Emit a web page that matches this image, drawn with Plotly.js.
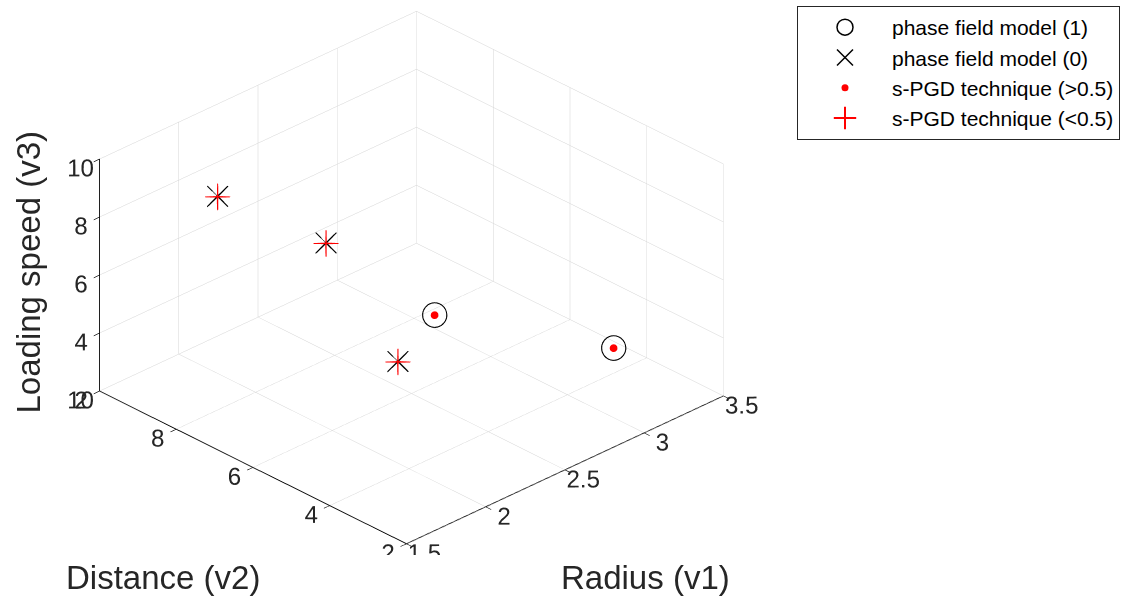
<!DOCTYPE html>
<html>
<head>
<meta charset="utf-8">
<script src="https://cdn.plot.ly/plotly-3.0.1.min.js"></script>
<style>html,body{margin:0;padding:0;background:#fff;}#chart{width:1131px;height:596px;}</style>
</head>
<body>
<div id="chart"></div>
<script>
// Data (Radius v1, Distance v2, Loading speed v3)
var pfm1Radius   = [2.5, 3.0];
var pfm1Distance = [5.4, 2.8];
var pfm1Speed    = [5.1, 4.4];

var pfm0Radius   = [2.0, 2.2, 2.0];
var pfm0Distance = [9.0, 7.0, 4.3];
var pfm0Speed    = [8.1, 7.3, 5.5];

var legendNames = ['phase field model (1)', 'phase field model (0)', 's-PGD technique (>0.5)', 's-PGD technique (<0.5)'];
var xTicks = [1.5, 2, 2.5, 3, 3.5];
var yTicks = [2, 4, 6, 8, 10];
var zTicks = [2, 4, 6, 8, 10];

var W = 1131, H = 596;
var FONT = 'Liberation Sans, Arial, sans-serif';
var THIN = 'Lato Thin';
var INK = '#262626';

function axis3d(ticks, range) {
  return {
    range: range, tickmode: 'array', tickvals: ticks, ticktext: ticks.map(String),
    showgrid: true, gridcolor: '#d4d4d4', gridwidth: 1,
    showline: true, linecolor: '#000', linewidth: 2,
    ticks: 'outside', ticklen: 8, tickcolor: '#000', tickwidth: 1.5,
    tickfont: {family: FONT, size: 17, color: INK}, tickangle: 0,
    showbackground: false, zeroline: false, showspikes: false,
    title: {text: ''}
  };
}

function glyphs(arr, ch) { return arr.map(function () { return ch; }); }

var traces = [
  {type: 'scatter3d', mode: 'text', x: pfm1Radius, y: pfm1Distance, z: pfm1Speed,
   text: glyphs(pfm1Radius, '○'), textposition: 'middle center',
   textfont: {family: 'Noto Sans CJK SC', size: 28, color: '#000'}, showlegend: false, hoverinfo: 'skip'},
  {type: 'scatter3d', mode: 'text', x: pfm0Radius, y: pfm0Distance, z: pfm0Speed,
   text: glyphs(pfm0Radius, '×'), textposition: 'middle center',
   textfont: {family: THIN, size: 54, color: '#000'}, showlegend: false, hoverinfo: 'skip'},
  {type: 'scatter3d', mode: 'markers', x: pfm1Radius, y: pfm1Distance, z: pfm1Speed,
   marker: {symbol: 'circle', size: 4.5, color: '#ff0000'}, showlegend: false, hoverinfo: 'skip'},
  {type: 'scatter3d', mode: 'text', x: pfm0Radius, y: pfm0Distance, z: pfm0Speed,
   text: glyphs(pfm0Radius, '+'), textposition: 'middle center',
   textfont: {family: THIN, size: 56, color: '#ff0000'}, showlegend: false, hoverinfo: 'skip'},
  {type: 'scatter', mode: 'markers', x: [null], y: [null], name: legendNames[0],
   marker: {symbol: 'circle-open', size: 16, color: '#000', line: {color: '#000', width: 1.5}}},
  {type: 'scatter', mode: 'markers', x: [null], y: [null], name: legendNames[1],
   marker: {symbol: 'x-thin-open', size: 16, color: '#000', line: {color: '#000', width: 1.5}}},
  {type: 'scatter', mode: 'markers', x: [null], y: [null], name: legendNames[2],
   marker: {symbol: 'circle', size: 7, color: '#ff0000', line: {width: 0}}},
  {type: 'scatter', mode: 'markers', x: [null], y: [null], name: legendNames[3],
   marker: {symbol: 'cross-thin-open', size: 16, color: '#ff0000', line: {color: '#ff0000', width: 2}}}
];

var s = 1.59;
var layout = {
  width: W, height: H,
  margin: {l: 0, r: 0, t: 0, b: 0},
  paper_bgcolor: '#fff', plot_bgcolor: '#fff',
  showlegend: true,
  xaxis: {visible: false, domain: [0.99, 1]},
  yaxis: {visible: false, domain: [0.99, 1]},
  scene: {
    domain: {x: [0, 0.7274], y: [0.0694, 1]},
    aspectmode: 'manual', aspectratio: {x: s, y: s, z: 0.6 * s},
    camera: {
      projection: {type: 'orthographic'},
      eye: {x: -0.6095 * 1.5, y: -0.6296 * 1.5, z: 0.4817 * 1.5},
      up: {x: 0, y: 0, z: 1}, center: {x: 0, y: 0, z: 0}
    },
    xaxis: axis3d(xTicks, [1.5, 3.5]),
    yaxis: axis3d(yTicks, [2, 10]),
    zaxis: axis3d(zTicks, [2, 10])
  },
  legend: {
    x: 797 / W, y: 1 - 6 / H, xanchor: 'left', yanchor: 'top',
    bgcolor: '#fff', bordercolor: INK, borderwidth: 1,
    font: {family: FONT, size: 21, color: '#000'},
    itemwidth: 84, tracegroupgap: 0
  },
  annotations: [
    {text: 'Radius (v1)', xref: 'paper', yref: 'paper', x: 645 / W, y: 1 - 577 / H, xanchor: 'center', yanchor: 'middle',
     showarrow: false, font: {family: FONT, size: 33, color: INK}},
    {text: 'Distance (v2)', xref: 'paper', yref: 'paper', x: 163 / W, y: 1 - 577 / H, xanchor: 'center', yanchor: 'middle',
     showarrow: false, font: {family: FONT, size: 33, color: INK}},
    {text: 'Loading speed (v3)', xref: 'paper', yref: 'paper', x: 28 / W, y: 1 - 272.5 / H, xanchor: 'center', yanchor: 'middle',
     textangle: -90, showarrow: false, font: {family: FONT, size: 33, color: INK}}
  ]
};

Plotly.newPlot('chart', traces, layout, {displayModeBar: false});
</script>
</body>
</html>
